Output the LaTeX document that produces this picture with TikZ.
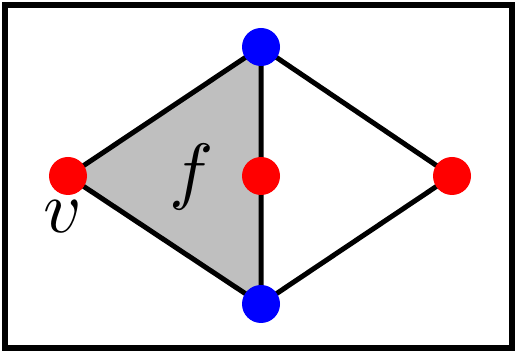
\documentclass[tikz,border=0pt]{standalone}
\begin{document}
\begin{tikzpicture}[x=1pt,y=-1pt,
  edge/.style={line width=5pt},
  vred/.style={circle,fill=red,minimum size=38pt,inner sep=0pt},
  vblue/.style={circle,fill=blue,minimum size=38pt,inner sep=0pt},
  lab/.style={inner sep=0pt,scale=7.4}]
\useasboundingbox (0,0) rectangle (517,352);
\draw[line width=6pt] (5,5) rectangle (512,348);
\coordinate (L) at (68,176);
\coordinate (T) at (261,47);
\coordinate (B) at (261,304);
\coordinate (M) at (261,176);
\coordinate (R) at (452,176);
\fill[black!25] (L) -- (T) -- (B) -- cycle;
\draw[edge] (L) -- (T) -- (B) -- cycle;
\draw[edge] (T) -- (R) -- (B);
\node[vred] (l) at (L) {};
\node[vred] (m) at (M) {};
\node[vred] (r) at (R) {};
\node[vblue] (t) at (T) {};
\node[vblue] (b) at (B) {};
\node[lab] (f) at (192,177) {$f$};
\node[lab] (v) at (63,217) {$v$};
\end{tikzpicture}
\end{document}
